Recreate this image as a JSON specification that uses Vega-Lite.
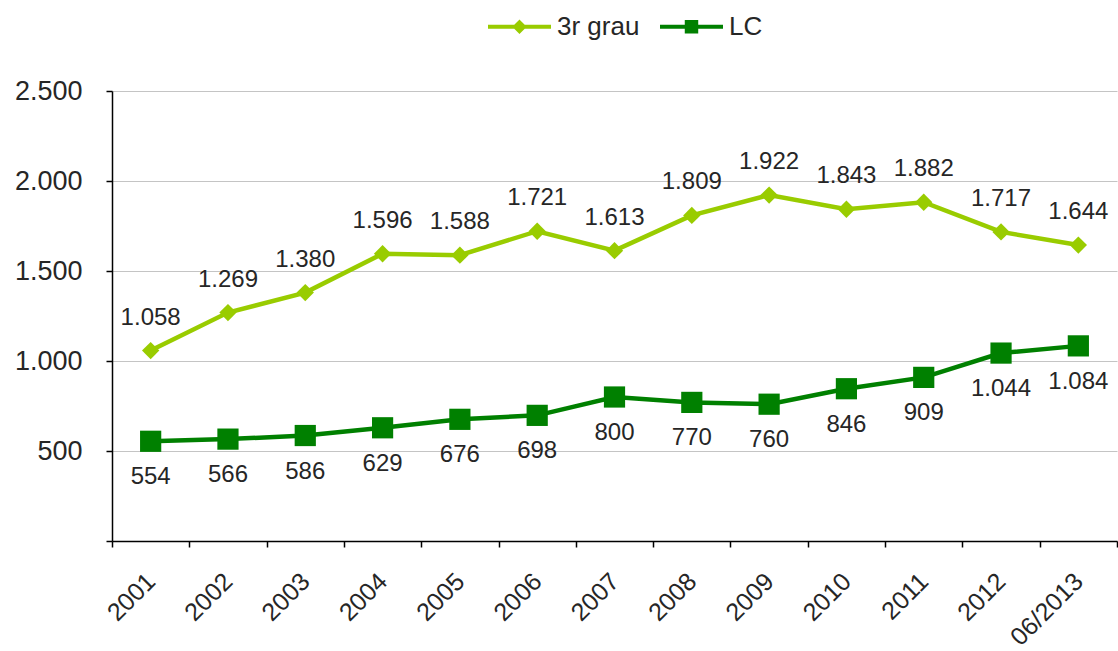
{
  "$schema": "https://vega.github.io/schema/vega-lite/v6.json",
  "width": 1005,
  "height": 450,
  "autosize": {"type": "none"},
  "padding": {"left": 112, "top": 91, "right": 1, "bottom": 110},
  "background": "white",
  "config": {
    "locale": {"number": {"decimal": ",", "thousands": ".", "grouping": [3], "currency": ["", " €"]}},
    "view": {"stroke": null},
    "font": "Liberation Sans",
    "axis": {
      "domainColor": "#000000",
      "domainWidth": 1.5,
      "tickColor": "#000000",
      "tickWidth": 1.5,
      "tickSize": 6,
      "labelFont": "Liberation Sans",
      "labelColor": "#262626",
      "gridColor": "#c4c4c4",
      "gridWidth": 1,
      "title": null
    },
    "legend": {
      "symbolSize": 3969,
      "symbolStrokeWidth": 4,
      "labelFontSize": 26,
      "labelFont": "Liberation Sans",
      "labelColor": "#262626",
      "labelOffset": 4,
      "columnPadding": 12
    }
  },
  "data": {
    "values": [
      {"year": "2001", "series": "3r grau", "value": 1058},
      {"year": "2002", "series": "3r grau", "value": 1269},
      {"year": "2003", "series": "3r grau", "value": 1380},
      {"year": "2004", "series": "3r grau", "value": 1596},
      {"year": "2005", "series": "3r grau", "value": 1588},
      {"year": "2006", "series": "3r grau", "value": 1721},
      {"year": "2007", "series": "3r grau", "value": 1613},
      {"year": "2008", "series": "3r grau", "value": 1809},
      {"year": "2009", "series": "3r grau", "value": 1922},
      {"year": "2010", "series": "3r grau", "value": 1843},
      {"year": "2011", "series": "3r grau", "value": 1882},
      {"year": "2012", "series": "3r grau", "value": 1717},
      {"year": "06/2013", "series": "3r grau", "value": 1644},
      {"year": "2001", "series": "LC", "value": 554},
      {"year": "2002", "series": "LC", "value": 566},
      {"year": "2003", "series": "LC", "value": 586},
      {"year": "2004", "series": "LC", "value": 629},
      {"year": "2005", "series": "LC", "value": 676},
      {"year": "2006", "series": "LC", "value": 698},
      {"year": "2007", "series": "LC", "value": 800},
      {"year": "2008", "series": "LC", "value": 770},
      {"year": "2009", "series": "LC", "value": 760},
      {"year": "2010", "series": "LC", "value": 846},
      {"year": "2011", "series": "LC", "value": 909},
      {"year": "2012", "series": "LC", "value": 1044},
      {"year": "06/2013", "series": "LC", "value": 1084}
    ]
  },
  "encoding": {
    "x": {
      "field": "year",
      "type": "nominal",
      "sort": null,
      "scale": {"type": "band", "paddingInner": 0, "paddingOuter": 0},
      "axis": {
        "grid": false,
        "tickBand": "extent",
        "labelAngle": -45,
        "labelAlign": "right",
        "labelBaseline": "middle",
        "labelFontSize": 25,
        "labelPadding": 30
      }
    },
    "y": {
      "field": "value",
      "type": "quantitative",
      "scale": {"domain": [0, 2500]},
      "axis": {
        "values": [0, 500, 1000, 1500, 2000, 2500],
        "format": ",d",
        "labelExpr": "datum.value == 0 ? '' : datum.label",
        "labelFontSize": 27,
        "labelPadding": 24,
        "grid": true
      }
    }
  },
  "layer": [
    {
      "transform": [{"filter": "datum.series == '3r grau'"}],
      "mark": {"type": "line", "color": "#99CC00", "strokeWidth": 4.5}
    },
    {
      "transform": [{"filter": "datum.series == 'LC'"}],
      "mark": {"type": "line", "color": "#008000", "strokeWidth": 4.5}
    },
    {
      "transform": [{"filter": "datum.series == '3r grau'"}],
      "mark": {"type": "point", "shape": "diamond", "filled": true, "size": 300, "color": "#99CC00", "opacity": 1}
    },
    {
      "transform": [{"filter": "datum.series == 'LC'"}],
      "mark": {"type": "point", "shape": "square", "filled": true, "size": 450, "color": "#008000", "opacity": 1}
    },
    {
      "transform": [{"filter": "datum.series == '3r grau'"}],
      "mark": {"type": "text", "dy": -33, "fontSize": 24, "color": "#262626", "font": "Liberation Sans"},
      "encoding": {"text": {"field": "value", "type": "quantitative", "format": ",d"}}
    },
    {
      "transform": [{"filter": "datum.series == 'LC'"}],
      "mark": {"type": "text", "dy": 36, "fontSize": 24, "color": "#262626", "font": "Liberation Sans"},
      "encoding": {"text": {"field": "value", "type": "quantitative", "format": ",d"}}
    },
    {
      "transform": [{"filter": "datum.value < 0"}],
      "mark": {"type": "point", "filled": false, "strokeWidth": 4, "opacity": 1},
      "encoding": {
        "color": {
          "field": "series",
          "type": "nominal",
          "scale": {"domain": ["3r grau", "LC"], "range": ["#99CC00", "#008000"]},
          "legend": {
            "orient": "none",
            "legendX": 374,
            "legendY": -98,
            "direction": "horizontal",
            "title": null,
            "encode": {
              "symbols": {
                "update": {
                  "stroke": {"scale": "color", "field": "value"},
                  "strokeWidth": {"value": 4},
                  "opacity": {"value": 1}
                }
              }
            }
          }
        },
        "shape": {
          "field": "series",
          "type": "nominal",
          "scale": {
            "domain": ["3r grau", "LC"],
            "range": [
              "M-1,0H1M0,-0.14L0.14,0L0,0.14L-0.14,0ZM0,-0.06L0.06,0L0,0.06L-0.06,0Z",
              "M-1,0H1M-0.15,-0.15H0.15V0.15H-0.15ZM-0.07,-0.07H0.07V0.07H-0.07ZM-0.01,-0.01H0.01V0.01H-0.01Z"
            ]
          },
          "legend": {
            "orient": "none",
            "legendX": 374,
            "legendY": -98,
            "direction": "horizontal",
            "title": null,
            "encode": {
              "symbols": {
                "update": {
                  "stroke": {"scale": "color", "field": "value"},
                  "strokeWidth": {"value": 4},
                  "opacity": {"value": 1}
                }
              }
            }
          }
        }
      }
    }
  ]
}
